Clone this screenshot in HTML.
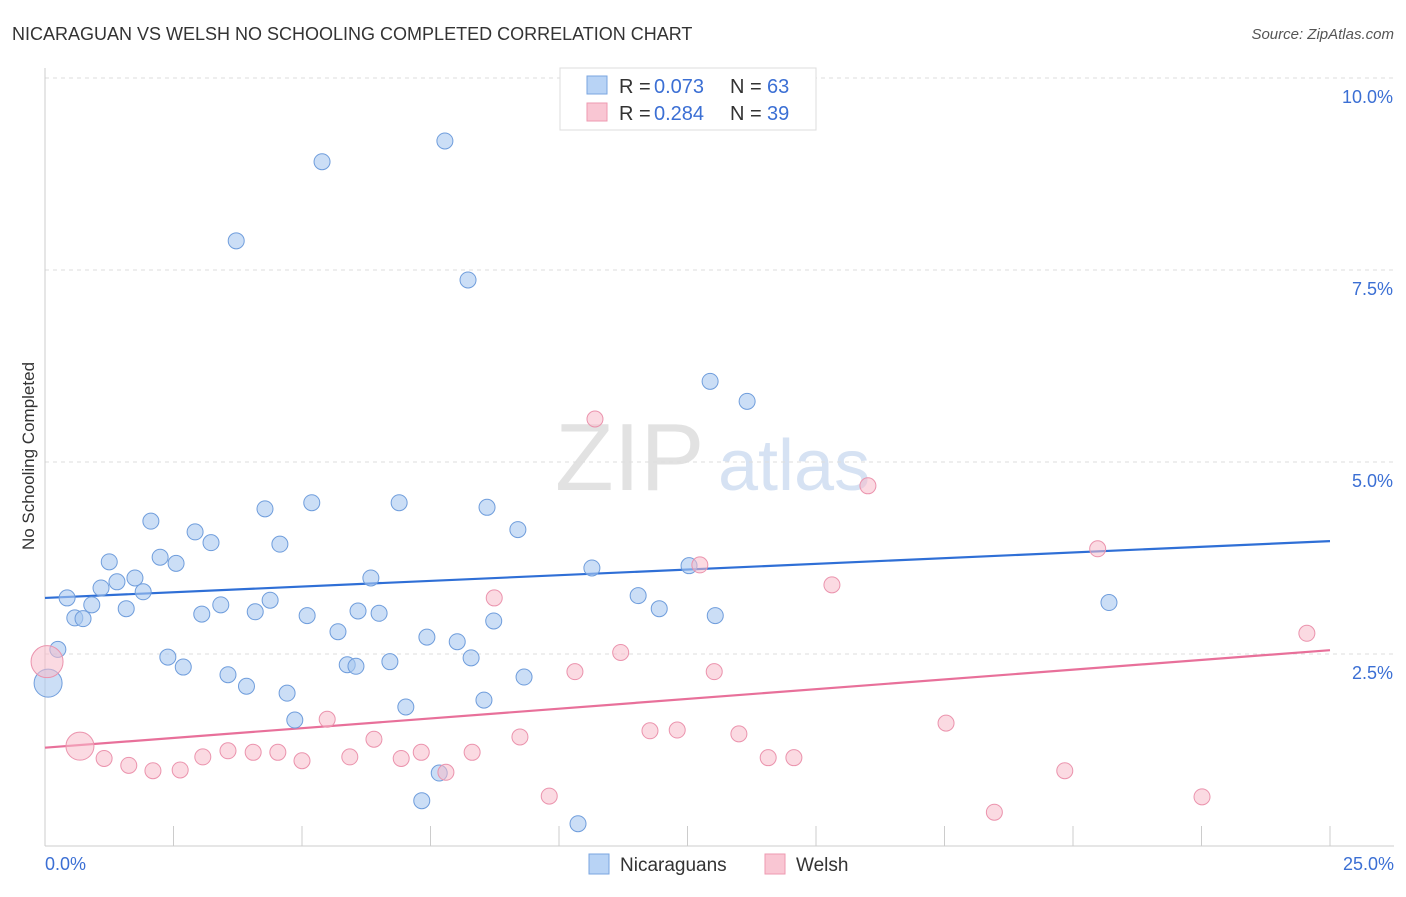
<!DOCTYPE html>
<html><head><meta charset="utf-8"><style>
body{margin:0;background:#fff;font-family:"Liberation Sans",sans-serif;}
svg text{font-family:"Liberation Sans",sans-serif;}
</style></head><body>
<svg id="c" width="1406" height="892">
<text x="12" y="40" font-size="18" fill="#333">NICARAGUAN VS WELSH NO SCHOOLING COMPLETED CORRELATION CHART</text>
<text x="1394" y="39" font-size="15" fill="#555" text-anchor="end" font-style="italic">Source: ZipAtlas.com</text>
<text x="34" y="456" font-size="17" fill="#333" text-anchor="middle" transform="rotate(-90 34 456)">No Schooling Completed</text>
<g><text x="555" y="490" font-size="96" fill="#e2e2e2" font-family="Liberation Serif">ZIP</text><text x="718" y="490" font-size="72" fill="#d6e2f3">atlas</text></g>
<g id="grid"></g><g id="axes"></g><g id="lines"></g><g id="pts"></g>
<g>
<rect x="560" y="68" width="256" height="62" fill="#fff" stroke="#ddd"/>
<rect x="587" y="76" width="20" height="18" fill="#b8d3f5" stroke="#7aa6e0"/>
<text x="619" y="93" font-size="20" fill="#333">R =</text><text x="654" y="93" font-size="20" fill="#3b6fd4">0.073</text>
<text x="730" y="93" font-size="20" fill="#333">N =</text><text x="767" y="93" font-size="20" fill="#3b6fd4">63</text>
<rect x="587" y="103" width="20" height="18" fill="#f9c6d3" stroke="#ee9ab0"/>
<text x="619" y="120" font-size="20" fill="#333">R =</text><text x="654" y="120" font-size="20" fill="#3b6fd4">0.284</text>
<text x="730" y="120" font-size="20" fill="#333">N =</text><text x="767" y="120" font-size="20" fill="#3b6fd4">39</text>
</g>
<g>
<rect x="589" y="854" width="20" height="20" fill="#b8d3f5" stroke="#7aa6e0"/>
<text x="620" y="871" font-size="19" fill="#333">Nicaraguans</text>
<rect x="765" y="854" width="20" height="20" fill="#f9c6d3" stroke="#ee9ab0"/>
<text x="796" y="871" font-size="19" fill="#333">Welsh</text>
</g>
</svg>
<script>
const xTicks=[0,2.5,5,7.5,10,12.5,15,17.5,20,22.5,25];
const yTicks=[2.5,5.0,7.5,10.0];
const blueX=[0.06,0.25,0.43,0.58,0.74,0.91,1.09,1.25,1.4,1.58,1.75,1.91,2.06,2.24,2.39,2.55,2.69,2.92,3.05,3.23,3.42,3.56,3.72,3.92,4.09,4.28,4.38,4.57,4.71,4.86,5.1,5.19,5.39,5.7,5.88,6.05,6.09,6.34,6.5,6.71,6.89,7.02,7.33,7.43,7.67,7.78,8.02,8.23,8.29,8.54,8.6,8.73,9.2,9.32,10.37,10.64,11.54,11.95,12.53,12.94,13.04,13.66,20.7];
const blueY=[2.12,2.56,3.23,2.97,2.96,3.14,3.36,3.7,3.44,3.09,3.49,3.31,4.23,3.76,2.46,3.68,2.33,4.09,3.02,3.95,3.14,2.23,7.88,2.08,3.05,4.39,3.2,3.93,1.99,1.64,3.0,4.47,8.91,2.79,2.36,2.34,3.06,3.49,3.03,2.4,4.47,1.81,0.59,2.72,0.95,9.18,2.66,7.37,2.45,1.9,4.41,2.93,4.12,2.2,0.29,3.62,3.26,3.09,3.65,6.05,3.0,5.79,3.17];
const pinkX=[0.04,0.68,1.15,1.63,2.1,2.63,3.07,3.56,4.05,4.53,5.0,5.49,5.93,6.4,6.93,7.32,7.8,8.31,8.74,9.24,9.81,10.31,10.7,11.2,11.77,12.3,12.74,13.02,13.5,14.07,14.57,15.31,16.01,17.53,18.47,19.84,20.48,22.51,24.55];
const pinkY=[2.4,1.3,1.14,1.05,0.98,0.99,1.16,1.24,1.22,1.22,1.11,1.65,1.16,1.39,1.14,1.22,0.96,1.22,3.23,1.42,0.65,2.27,5.56,2.52,1.5,1.51,3.66,2.27,1.46,1.15,1.15,3.4,4.69,1.6,0.44,0.98,3.87,0.64,2.77];
const pinkR=[16,14];
const blueLine=[3.23,3.97], pinkLine=[1.28,2.55];
const sx=v=>45+v*51.4, sy=v=>846-v*76.8;
const NS='http://www.w3.org/2000/svg';
function mk(t,a,p){const e=document.createElementNS(NS,t);for(const k in a)e.setAttribute(k,a[k]);document.getElementById(p).appendChild(e);return e;}
yTicks.forEach(v=>{
 const l=mk('line',{x1:45,x2:1394,y1:sy(v),y2:sy(v),stroke:'#ddd','stroke-dasharray':'4,4'},'grid');
 
 
 const t=mk('text',{x:1393,y:sy(v)+25,'font-size':18,fill:'#3b6fd4','text-anchor':'end'},'grid');
 t.textContent=v.toFixed(1)+'%';
 
 
});
let a=mk('line',{x1:45,x2:45,y1:68,y2:846,stroke:'#ccc'},'axes');


a=mk('line',{x1:45,x2:1394,y1:846,y2:846,stroke:'#ccc'},'axes');


xTicks.forEach(v=>{
 const l=mk('line',{x1:sx(v),x2:sx(v),y1:826,y2:846,stroke:'#ccc'},'axes');
 
 
});
[[0,'start',45],[25,'end',1394]].forEach(([v,an,x])=>{
 const t=mk('text',{x:x,y:870,'font-size':18,fill:'#3b6fd4','text-anchor':an},'axes');
 t.textContent=v.toFixed(1)+'%';
 
 
});
let tl=mk('line',{x1:sx(0),y1:sy(blueLine[0]),x2:sx(25),y2:sy(blueLine[1]),stroke:'#2f6fd6','stroke-width':2.2},'lines');


tl=mk('line',{x1:sx(0),y1:sy(pinkLine[0]),x2:sx(25),y2:sy(pinkLine[1]),stroke:'#e8709a','stroke-width':2.2},'lines');


blueX.forEach((x,i)=>{
 const c=mk('circle',{cx:sx(x),cy:sy(blueY[i]),r:i===0?14:8,fill:'#a9c8f0','fill-opacity':0.6,stroke:'#6f9ddc','stroke-width':1},'pts');
 
 
});
pinkX.forEach((x,i)=>{
 const c=mk('circle',{cx:sx(x),cy:sy(pinkY[i]),r:i<2?pinkR[i]:8,fill:'#f7bccb','fill-opacity':0.55,stroke:'#eb93ad','stroke-width':1},'pts');
 
 
});
</script>
</body></html>
